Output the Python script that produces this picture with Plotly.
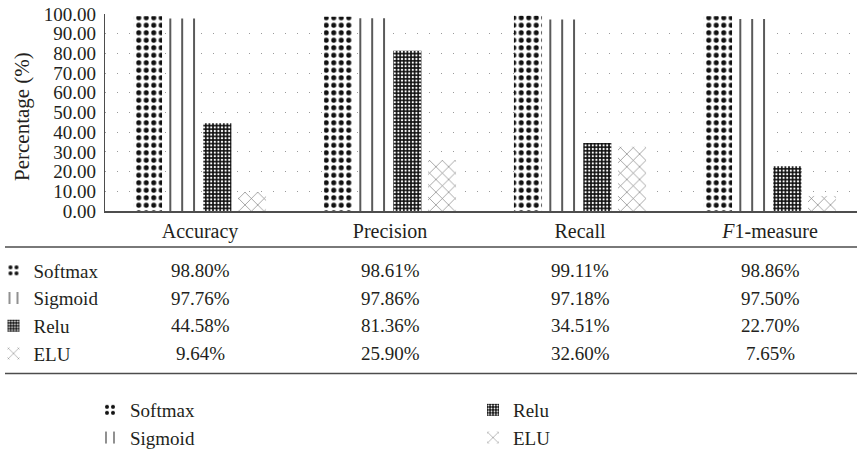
import plotly.graph_objects as go

# Metrics and per-activation results (percent)
metrics = ["Accuracy", "Precision", "Recall", "F1-measure"]
metric_labels = ["Accuracy", "Precision", "Recall", "<i>F</i>1-measure"]
activations = ["Softmax", "Sigmoid", "Relu", "ELU"]
softmax = [98.80, 98.61, 99.11, 98.86]
sigmoid = [97.76, 97.86, 97.18, 97.50]
relu = [44.58, 81.36, 34.51, 22.70]
elu = [9.64, 25.90, 32.60, 7.65]
y_ticks = [0, 10, 20, 30, 40, 50, 60, 70, 80, 90, 100]

series = [softmax, sigmoid, relu, elu]

W, H = 857, 453
L, R, T, B = 105, 0, 14, 242
PW, PH = W - L - R, H - T - B
SERIF = "Liberation Serif"
TXT = "#231f20"

patterns = [
    dict(shape=".", fgcolor="#111111", bgcolor="white", size=7.5, solidity=0.36, fillmode="replace"),
    dict(shape="|", fgcolor="#2a2a2a", bgcolor="white", size=11.875, solidity=0.13, fillmode="replace"),
    dict(shape=".", fgcolor="white", bgcolor="#111111", size=3.6, solidity=0.3, fillmode="replace"),
    dict(shape="x", fgcolor="#7a7a7a", bgcolor="white", size=9, solidity=0.14, fillmode="replace"),
]


def px_y(py):
    """pixel row -> paper y"""
    return (T + PH - py) / PH


def px_x(px):
    """pixel column -> paper x"""
    return (px - L) / PW


fig = go.Figure()

# main bars (their legend labels the table rows)
for name, vals, pat in zip(activations, series, patterns):
    fig.add_trace(go.Bar(
        x=metrics, y=vals, name=name,
        marker=dict(color="white", pattern=pat, line=dict(width=0)),
        legend="legend", hoverinfo="x+y+name",
    ))

# legend-only copies for the key below the table
for i, (name, pat) in enumerate(zip(activations, patterns)):
    fig.add_trace(go.Bar(
        x=[None], y=[None], name=name,
        marker=dict(color="white", pattern=pat, line=dict(width=0)),
        xaxis="x2", yaxis="y2",
        legend="legend2" if i < 2 else "legend3",
    ))

# table cells
annotations = []
row_y = [270.5, 298, 325.5, 353]
for ry, vals in zip(row_y, series):
    for m, v in zip(metrics, vals):
        annotations.append(dict(
            x=m, xref="x", y=px_y(ry), yref="paper",
            text=f"{v:.2f}%", showarrow=False, xanchor="center", yanchor="middle",
            font=dict(family=SERIF, size=19, color=TXT),
        ))

# y-axis title
annotations.append(dict(
    x=px_x(22), xref="paper", y=px_y(117), yref="paper",
    text="Percentage (%)", textangle=-90, showarrow=False,
    xanchor="center", yanchor="middle",
    font=dict(family=SERIF, size=21, color=TXT),
))

shapes = [
    dict(type="line", xref="paper", yref="paper", x0=px_x(5), x1=1,
         y0=px_y(247), y1=px_y(247), line=dict(color="#4d4d4d", width=1.6)),
    dict(type="line", xref="paper", yref="paper", x0=px_x(5), x1=1,
         y0=px_y(373.5), y1=px_y(373.5), line=dict(color="#4d4d4d", width=1.6)),
]


def legend_box(x, y, xref="container"):
    return dict(
        xref=xref, yref="container", xanchor="left", yanchor="top",
        x=x, y=y, orientation="v", bgcolor="rgba(0,0,0,0)", borderwidth=0,
        font=dict(family=SERIF, size=19, color=TXT),
        itemclick=False, itemdoubleclick=False,
    )


fig.update_layout(
    width=W, height=H,
    margin=dict(l=L, r=R, t=T, b=B, pad=0, autoexpand=False),
    paper_bgcolor="white", plot_bgcolor="white",
    barmode="group", bargap=0.27, bargroupgap=0.19,
    font=dict(family=SERIF, size=19, color=TXT),
    showlegend=True,
    legend=legend_box(px_x(-6.5), 1 - 251.5 / H, xref="paper"),
    legend2=legend_box(90 / W, 1 - 391 / H),
    legend3=legend_box(473 / W, 1 - 391 / H),
    xaxis=dict(
        type="category", categoryorder="array", categoryarray=metrics,
        tickmode="array", tickvals=metrics, ticktext=metric_labels,
        range=[-0.5, 3.5 - 8 / 190], tickangle=0,
        showline=True, linecolor="#4d4d4d", linewidth=2, ticks="",
        showgrid=False, zeroline=False, ticklabelstandoff=1,
        tickfont=dict(family=SERIF, size=20, color=TXT),
        fixedrange=True, automargin=False,
    ),
    yaxis=dict(
        range=[0, 100], tickmode="array", tickvals=y_ticks, tickformat=".2f",
        showline=True, linecolor="#4d4d4d", linewidth=1.2, ticks="",
        showgrid=True, gridcolor="#9a9a9a", gridwidth=1, griddash="1px,11px",
        zeroline=False, ticklabelstandoff=4, automargin=False,
        tickfont=dict(family=SERIF, size=19, color=TXT),
        fixedrange=True,
    ),
    xaxis2=dict(visible=False, domain=[0, 0.01], anchor="y2", fixedrange=True),
    yaxis2=dict(visible=False, domain=[0, 0.01], anchor="x2", fixedrange=True),
    annotations=annotations,
    shapes=shapes,
)

fig.write_html("out.html")
